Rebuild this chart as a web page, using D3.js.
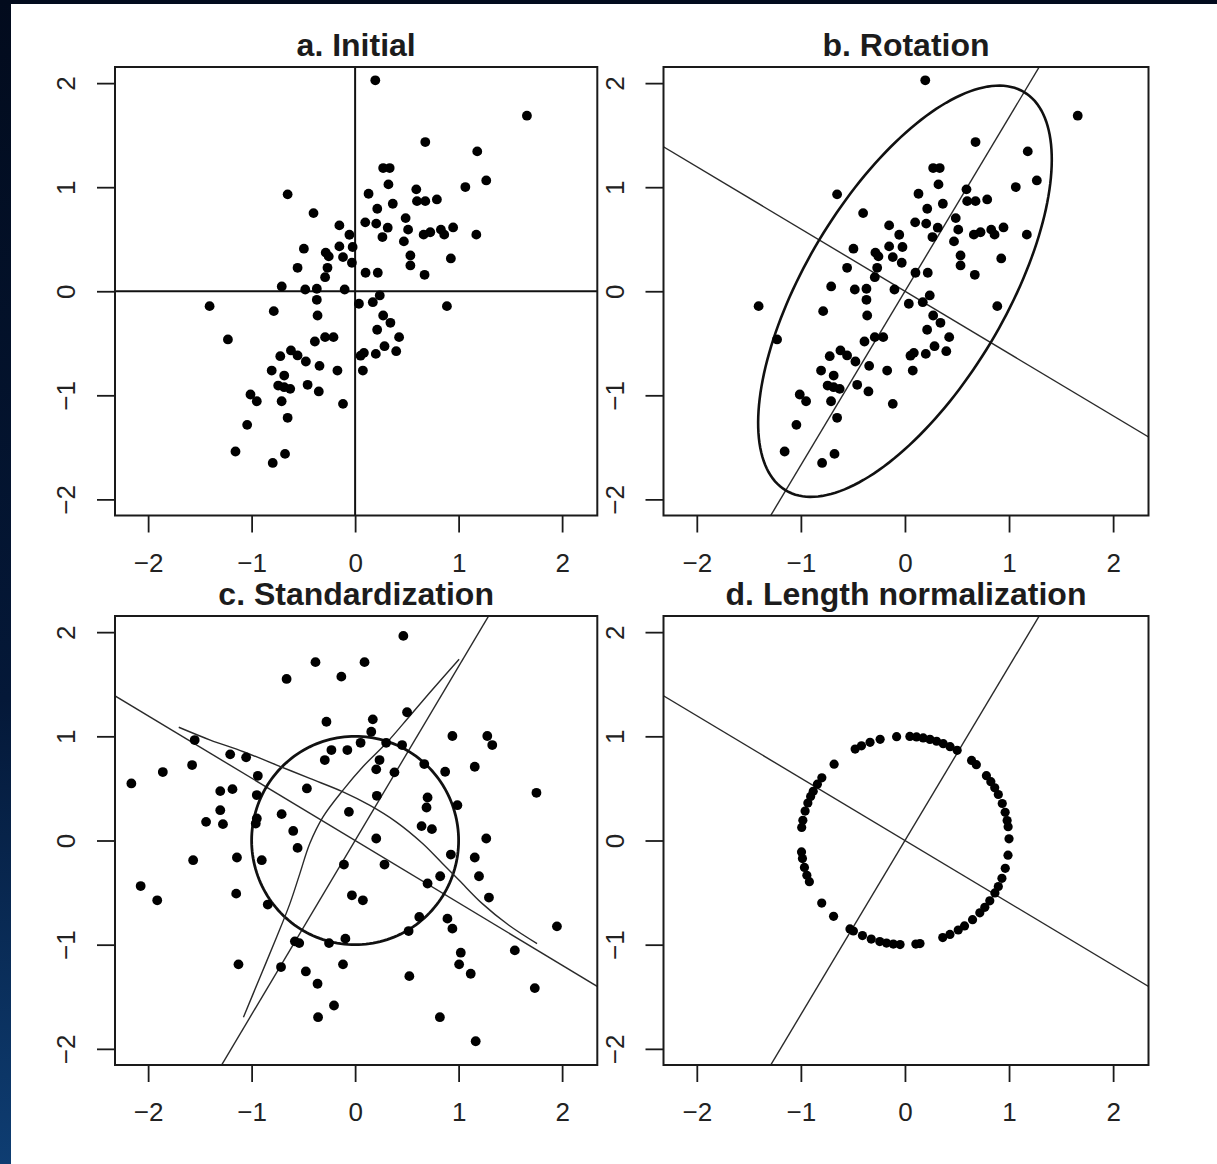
<!DOCTYPE html>
<html>
<head>
<meta charset="utf-8">
<script src="https://cdn.jsdelivr.net/npm/d3@7"></script>
<style>
body { margin: 0; background: #020b1d; }
svg { display: block; }
.tick-label { font-family: "Liberation Sans", Arial, Helvetica, sans-serif; font-size: 26px; fill: #222; }
.title { font-family: "Liberation Sans", Arial, Helvetica, sans-serif; font-size: 32px; font-weight: bold; fill: #1c1c1c; }
</style>
</head>
<body>
<div id="chart"></div>
<script>
var svgWidth = 1217;
var svgHeight = 1164;

// panel titles and axis ticks
var titles = ["a. Initial", "b. Rotation", "c. Standardization", "d. Length normalization"];
var tickValues = [-2, -1, 0, 1, 2];

// a. / b. : raw points (same data in both panels)
var initialPoints = [
    [0.678, 1.434], [1.180, 1.344], [1.267, 1.065], [1.065, 1.001], [0.271, 1.184], [0.334, 1.184],
    [0.322, 1.027], [0.130, 0.937], [-0.652, 0.931], [0.591, 0.979], [0.598, 0.866], [0.678, 0.866],
    [0.790, 0.882], [0.364, 0.841], [0.214, 0.793], [-0.402, 0.751], [0.488, 0.703], [0.098, 0.662],
    [0.204, 0.650], [0.315, 0.611], [0.264, 0.521], [0.512, 0.592], [0.471, 0.479], [0.662, 0.544],
    [0.726, 0.567], [0.829, 0.592], [0.861, 0.544], [0.947, 0.613], [1.171, 0.544], [0.534, 0.344],
    [0.534, 0.248], [0.925, 0.315], [0.671, 0.158], [-0.152, 0.633], [-0.055, 0.543], [-0.024, 0.425],
    [-0.152, 0.431], [-0.117, 0.328], [-0.031, 0.274], [-0.495, 0.409], [-0.284, 0.371], [-0.255, 0.335],
    [-0.556, 0.225], [-0.267, 0.225], [-0.290, 0.135], [0.101, 0.178], [0.219, 0.178], [-0.709, 0.046],
    [-0.482, 0.017], [-0.370, 0.024], [-0.101, 0.017], [-0.370, -0.082], [-1.406, -0.143], [-0.786, -0.191],
    [-0.363, -0.233], [0.037, -0.120], [0.171, -0.105], [0.238, -0.040], [0.887, -0.143], [0.271, -0.233],
    [0.341, -0.303], [0.213, -0.370], [0.425, -0.441], [0.284, -0.528], [0.397, -0.576], [0.200, -0.602],
    [0.053, -0.619], [0.085, -0.592], [0.075, -0.762], [-1.229, -0.463], [-0.389, -0.483], [-0.290, -0.441],
    [-0.209, -0.441], [-0.723, -0.624], [-0.620, -0.569], [-0.556, -0.617], [-0.476, -0.675], [-0.344, -0.717],
    [-0.171, -0.762], [-0.806, -0.762], [-0.685, -0.810], [-0.743, -0.906], [-0.685, -0.922], [-0.627, -0.938],
    [-0.459, -0.899], [-0.351, -0.963], [-1.011, -0.992], [-0.950, -1.057], [-0.710, -1.057], [-0.117, -1.082],
    [-0.652, -1.216], [-1.043, -1.284], [-1.156, -1.540], [-0.677, -1.563], [-0.796, -1.650], [0.195, 2.027],
    [1.660, 1.687]
];

// c. : standardized points
var standardPoints = [
    [0.466, 1.964], [-0.383, 1.712], [0.091, 1.712], [-0.662, 1.551], [-0.133, 1.573], [-0.277, 1.140],
    [0.171, 1.163], [0.502, 1.231], [0.156, 1.044], [0.940, 1.003], [1.277, 1.003], [1.325, 0.916],
    [-1.550, 0.964], [-1.207, 0.827], [-1.053, 0.798], [-1.575, 0.724], [-1.858, 0.657], [-2.162, 0.548],
    [-0.940, 0.621], [-1.303, 0.474], [-1.185, 0.493], [-1.303, 0.291], [-1.440, 0.179], [-1.277, 0.157],
    [-0.950, 0.436], [-0.950, 0.212], [-0.960, 0.163], [-0.710, 0.253], [-0.598, 0.092], [-0.556, -0.071],
    [-0.466, 0.500], [-0.293, 0.772], [-0.229, 0.868], [-0.075, 0.868], [0.053, 0.938], [0.300, 0.938],
    [0.454, 0.916], [0.236, 0.772], [0.204, 0.683], [0.380, 0.654], [0.668, 0.734], [0.870, 0.660],
    [1.156, 0.708], [0.210, 0.429], [-0.060, 0.275], [0.700, 0.413], [0.690, 0.317], [0.988, 0.339],
    [1.752, 0.458], [0.642, 0.138], [0.742, 0.109], [0.204, 0.019], [1.267, 0.019], [-1.565, -0.189],
    [-1.142, -0.163], [-0.902, -0.189], [-0.108, -0.231], [0.284, -0.231], [0.925, -0.135], [1.156, -0.163],
    [0.822, -0.343], [0.700, -0.413], [1.197, -0.343], [1.293, -0.548], [-2.072, -0.437], [-1.912, -0.574],
    [-1.149, -0.510], [-0.031, -0.526], [0.075, -0.574], [-0.844, -0.615], [0.620, -0.734], [0.517, -0.869],
    [0.892, -0.750], [0.940, -0.846], [-0.582, -0.968], [-0.540, -0.985], [-0.252, -0.985], [-0.094, -0.942],
    [1.950, -0.824], [1.543, -1.055], [1.021, -1.077], [1.005, -1.189], [1.117, -1.279], [-1.127, -1.189],
    [-0.716, -1.215], [-0.476, -1.257], [-0.117, -1.189], [-0.363, -1.375], [0.524, -1.302], [1.736, -1.417],
    [-0.204, -1.584], [-0.358, -1.696], [0.819, -1.696], [1.165, -1.927]
];

// d. : angle (degrees) of each point on the unit circle
var normAngles = [
    118.6, 114.7, 109.6, 103.8, 94.6, 87.3, 83.6, 79.9, 76.1, 72.3, 68.4, 64.3, 59.9,
    50.2, 46.7, 38.5, 34.4, 30.4, 26.2, 20.8, 15.7, 11.0, 7.6, 0.9, -8.1, -15.5, -21.3,
    -26.2, -30.2, -35.4, -39.9, -44.0, -49.5, -55.1, -59.2, -64.4, -68.7, -81.7, -84.0,
    -92.7, -96.4, -100.2, -104.0, -108.9, -114.1, -119.7, -121.9, -133.3, -143.1, -156.7,
    -160.5, -165.0, -170.0, -173.7, 172.8, 168.8, 163.6, 158.9, 155.0, 151.8, 147.3, 143.0, 132.9
];

// c. : the two curved lines
var curveA = [
    [-1.079, -1.696], [-0.918, -1.310], [-0.758, -0.927], [-0.630, -0.606], [-0.534, -0.318],
    [-0.438, -0.029], [-0.310, 0.227], [-0.117, 0.484], [0.075, 0.708], [0.300, 0.933],
    [0.524, 1.190], [0.716, 1.413], [1.005, 1.740]
];
var curveB = [
    [-1.704, 1.087], [-1.399, 0.964], [-1.079, 0.852], [-0.758, 0.724], [-0.438, 0.596],
    [-0.117, 0.467], [0.139, 0.339], [0.396, 0.179], [0.652, -0.029], [0.844, -0.221],
    [1.005, -0.382], [1.229, -0.606], [1.486, -0.814], [1.758, -0.990]
];

// principal axes (degrees) and the covariance ellipse of b.
var axisAngles = [59.1, -30.9];
var ellipseA = 2.23;
var ellipseB = 0.96;
var ellipseAngle = 59.1;

var xDomain = [-2.32, 2.34];
var yDomain = [-2.155, 2.155];

var panels = [
    { left: 115, right: 597.3, top: 67, bottom: 515.5 },
    { left: 663.5, right: 1148.5, top: 67, bottom: 515.5 },
    { left: 115, right: 597.3, top: 616, bottom: 1065 },
    { left: 663.5, right: 1148.5, top: 616, bottom: 1065 }
];

var tickFormat = d3.format("d");

var svg = d3.select("#chart")
    .append("svg")
    .attr("width", svgWidth)
    .attr("height", svgHeight);

var defs = svg.append("defs");
var grad = defs.append("linearGradient")
    .attr("id", "navy")
    .attr("x1", 0).attr("y1", 0).attr("x2", 0).attr("y2", 1);
grad.append("stop").attr("offset", "0%").attr("stop-color", "#020b1d");
grad.append("stop").attr("offset", "60%").attr("stop-color", "#041838");
grad.append("stop").attr("offset", "100%").attr("stop-color", "#0e3d72");

svg.append("rect")
    .attr("width", svgWidth)
    .attr("height", svgHeight)
    .attr("fill", "url(#navy)");

svg.append("rect")
    .attr("x", 11)
    .attr("y", 4)
    .attr("width", svgWidth - 11)
    .attr("height", svgHeight - 4)
    .attr("fill", "#ffffff");

function lineThroughOrigin(angle) {
    var r = angle * Math.PI / 180;
    return [[-6 * Math.cos(r), -6 * Math.sin(r)], [6 * Math.cos(r), 6 * Math.sin(r)]];
}

panels.forEach(function (p, i) {
    var x = d3.scaleLinear().domain(xDomain).range([p.left, p.right]);
    var y = d3.scaleLinear().domain(yDomain).range([p.bottom, p.top]);
    var line = d3.line().x(d => x(d[0])).y(d => y(d[1]));

    defs.append("clipPath")
        .attr("id", "clip" + i)
        .append("rect")
        .attr("x", p.left)
        .attr("y", p.top)
        .attr("width", p.right - p.left)
        .attr("height", p.bottom - p.top);

    var g = svg.append("g");
    var plot = g.append("g").attr("clip-path", `url(#clip${i})`);

    if (i === 0) {
        // zero lines
        plot.append("path")
            .attr("d", line([[0, -5], [0, 5]]))
            .attr("stroke", "#111").attr("stroke-width", 2).attr("fill", "none");
        plot.append("path")
            .attr("d", line([[-5, 0], [5, 0]]))
            .attr("stroke", "#111").attr("stroke-width", 2).attr("fill", "none");
    } else {
        axisAngles.forEach(function (a) {
            plot.append("path")
                .attr("d", line(lineThroughOrigin(a)))
                .attr("stroke", "#2a2a2a").attr("stroke-width", 1.4).attr("fill", "none");
        });
    }

    if (i === 1) {
        var t = ellipseAngle * Math.PI / 180;
        var ell = d3.range(0, 361, 2).map(function (deg) {
            var s = deg * Math.PI / 180;
            var u = ellipseA * Math.cos(s), v = ellipseB * Math.sin(s);
            return [u * Math.cos(t) - v * Math.sin(t), u * Math.sin(t) + v * Math.cos(t)];
        });
        plot.append("path")
            .attr("d", line(ell))
            .attr("stroke", "#111").attr("stroke-width", 2.6).attr("fill", "none");
    }

    if (i === 2) {
        var circ = d3.range(0, 361, 2).map(deg => [Math.cos(deg * Math.PI / 180), Math.sin(deg * Math.PI / 180)]);
        plot.append("path")
            .attr("d", line(circ))
            .attr("stroke", "#111").attr("stroke-width", 2.8).attr("fill", "none");
        var curve = d3.line().x(d => x(d[0])).y(d => y(d[1])).curve(d3.curveCatmullRom);
        [curveA, curveB].forEach(function (c) {
            plot.append("path")
                .attr("d", curve(c))
                .attr("stroke", "#2a2a2a").attr("stroke-width", 1.4).attr("fill", "none");
        });
    }

    var pts;
    if (i < 2) pts = initialPoints;
    else if (i === 2) pts = standardPoints;
    else pts = normAngles.map(a => [Math.cos(a * Math.PI / 180), Math.sin(a * Math.PI / 180)]);

    plot.selectAll("circle")
        .data(pts)
        .enter()
        .append("circle")
        .attr("cx", d => x(d[0]))
        .attr("cy", d => y(d[1]))
        .attr("r", i === 3 ? 4.6 : 4.9)
        .attr("fill", "#000");

    // axes
    var xAxis = g.append("g")
        .attr("transform", `translate(0, ${p.bottom})`)
        .call(d3.axisBottom(x).tickValues(tickValues).tickFormat(tickFormat).tickSize(17).tickSizeOuter(0));
    xAxis.select(".domain").remove();
    xAxis.attr("font-family", null).attr("font-size", null);
    xAxis.selectAll("line").attr("stroke", "#1a1a1a").attr("stroke-width", 1.8);
    xAxis.selectAll("text")
        .attr("class", "tick-label")
        .attr("fill", null)
        .attr("y", 56)
        .attr("dy", null);

    var yAxis = g.append("g")
        .attr("transform", `translate(${p.left}, 0)`)
        .call(d3.axisLeft(y).tickValues(tickValues).tickFormat(tickFormat).tickSize(18).tickSizeOuter(0));
    yAxis.select(".domain").remove();
    yAxis.attr("font-family", null).attr("font-size", null);
    yAxis.selectAll("line").attr("stroke", "#1a1a1a").attr("stroke-width", 1.8);
    yAxis.selectAll("text")
        .attr("class", "tick-label")
        .attr("fill", null)
        .attr("x", 0)
        .attr("dy", null)
        .attr("text-anchor", "middle")
        .attr("transform", "translate(-40, 0) rotate(-90)");

    // box
    g.append("rect")
        .attr("x", p.left)
        .attr("y", p.top)
        .attr("width", p.right - p.left)
        .attr("height", p.bottom - p.top)
        .attr("fill", "none")
        .attr("stroke", "#1a1a1a")
        .attr("stroke-width", 2);

    g.append("text")
        .attr("class", "title")
        .attr("x", (p.left + p.right) / 2)
        .attr("y", p.top - 11)
        .attr("text-anchor", "middle")
        .text(titles[i]);
});
</script>
</body>
</html>
